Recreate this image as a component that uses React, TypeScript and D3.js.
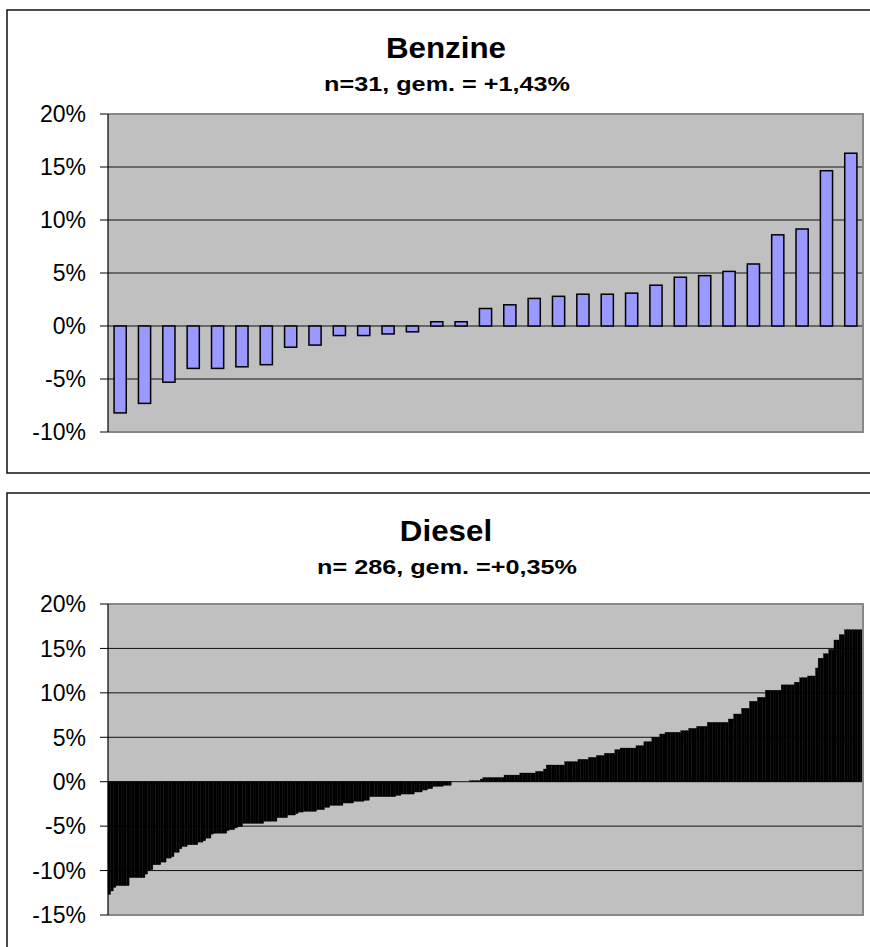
import React from "react";
import * as d3 from "d3";

// Benzine: 31 sorted price deviations (%)
const benzineValues: number[] = [
  -8.2, -7.3, -5.3, -4.0, -4.0, -3.85, -3.65, -2.0, -1.8, -0.9, -0.9, -0.75, -0.55,
  0.4, 0.4, 1.65, 2.0, 2.6, 2.8, 3.0, 3.0, 3.1, 3.85, 4.6, 4.75, 5.15, 5.85, 8.6, 9.15,
  14.65, 16.3,
];

// Diesel: 286 sorted price deviations (%)
const dieselValues: number[] = [
  -12.7, -12.3, -11.9, -11.7, -11.7, -11.7, -11.7, -11.7,
  -10.8, -10.8, -10.8, -10.8, -10.8, -10.8, -10.4, -10.0, -9.9,
  -9.35, -9.35, -9.35, -9.05, -9.05, -8.6, -8.6, -8.45, -7.95, -7.95, -7.55,
  -7.3, -7.3, -7.1, -7.1, -7.1, -7.1, -6.8, -6.8, -6.65, -6.35, -6.35, -5.9,
  -5.8, -5.8, -5.8, -5.8, -5.8, -5.5, -5.4, -5.4, -5.2, -5.05, -5.05,
  -4.7, -4.7, -4.7, -4.7, -4.7, -4.7, -4.7, -4.7,
  -4.45, -4.45, -4.45, -4.45, -4.45, -4.05, -4.05, -4.05, -4.05,
  -3.75, -3.75, -3.75, -3.6, -3.42, -3.42,
  -3.34, -3.34, -3.34, -3.34, -3.34, -3.15, -3.15, -3.15, -2.89, -2.89,
  -2.67, -2.67, -2.67, -2.67, -2.67, -2.4, -2.4, -2.4, -2.4,
  -2.21, -2.21, -2.21, -2.21, -2.1, -2.1,
  -1.69, -1.69, -1.69, -1.69, -1.69, -1.69, -1.69, -1.69, -1.69, -1.69,
  -1.54, -1.54, -1.39, -1.39, -1.39, -1.39, -1.39, -1.16, -1.16, -1.16,
  -0.94, -0.94, -0.79, -0.79, -0.53, -0.53, -0.53, -0.53, -0.41, -0.41, -0.41,
  0, 0, 0, 0, 0, 0, 0,
  0.12, 0.12, 0.12, 0.12, 0.3,
  0.47, 0.47, 0.47, 0.47, 0.47, 0.47, 0.47, 0.47,
  0.75, 0.75, 0.75, 0.75, 0.75, 0.75, 0.98, 0.98, 0.98, 0.98, 0.98, 0.98,
  1.16, 1.16, 1.16, 1.43,
  1.88, 1.88, 1.88, 1.88, 1.88, 1.88, 1.88, 2.25, 2.25, 2.25, 2.25, 2.25,
  2.52, 2.52, 2.52, 2.52, 2.74, 2.74, 2.74, 2.95, 2.95, 2.95, 3.2, 3.2, 3.2, 3.2,
  3.6, 3.6, 3.79, 3.79, 3.79, 3.79, 3.79, 3.79, 4.05, 4.05, 4.05,
  4.5, 4.5, 4.5, 5.0, 5.0, 5.0, 5.37, 5.37,
  5.56, 5.56, 5.56, 5.56, 5.56, 5.56, 5.74, 5.74, 5.74, 6.0, 6.0, 6.0,
  6.23, 6.23, 6.23, 6.23, 6.68, 6.68, 6.68, 6.68, 6.68, 6.68, 6.68, 6.68,
  7.06, 7.06, 7.62, 7.62, 7.62, 8.26, 8.26, 8.26, 9.05, 9.05, 9.05, 9.5, 9.5, 9.5,
  10.3, 10.3, 10.3, 10.3, 10.3, 10.3, 10.9, 10.9, 10.9, 10.9, 10.9, 11.2, 11.2,
  11.7, 11.7, 11.7, 11.9, 11.9, 11.9, 12.8, 13.9, 13.9, 14.4, 14.4, 14.9, 14.9,
  15.95, 15.95, 16.55, 16.55, 17.1, 17.1, 17.1, 17.1, 17.1, 17.1, 17.1,
];

const benzineTicks: number[] = [20, 15, 10, 5, 0, -5, -10];
const dieselTicks: number[] = [20, 15, 10, 5, 0, -5, -10, -15];

const FONT = "'Liberation Sans', Arial, sans-serif";

type PanelProps = {
  boxTop: number;
  boxHeight: number;
  plotTop: number;
  plotBottom: number;
  title: string;
  subtitle: string;
  values: number[];
  ticks: number[];
  padInner: number;
  padOuter: number;
  fill: string;
  stroke: string;
  strokeWidth: number;
};

function Panel(p: PanelProps) {
  const left = 108;
  const right = 863;
  const yMin = d3.min(p.ticks) as number;
  const yMax = d3.max(p.ticks) as number;
  const y = d3.scaleLinear().domain([yMin, yMax]).range([p.plotBottom, p.plotTop]);
  const x = d3
    .scaleBand<number>()
    .domain(d3.range(p.values.length))
    .range([left, right])
    .paddingInner(p.padInner)
    .paddingOuter(p.padOuter);
  const zero = y(0);
  const fmt = (t: number) => `${t}%`;

  return (
    <g>
      <rect x={7} y={p.boxTop} width={880} height={p.boxHeight} fill="#fff" stroke="#111" strokeWidth={1.5} />
      <text
        transform={`translate(446,${p.boxTop + 48}) scale(1.08,1)`}
        textAnchor="middle"
        fontFamily={FONT}
        fontWeight="bold"
        fontSize={29}
      >
        {p.title}
      </text>
      <text
        transform={`translate(447,${p.boxTop + 81}) scale(1.2,1)`}
        textAnchor="middle"
        fontFamily={FONT}
        fontWeight="bold"
        fontSize={21}
      >
        {p.subtitle}
      </text>
      <rect x={left} y={p.plotTop} width={right - left} height={p.plotBottom - p.plotTop} fill="#c0c0c0" />
      {p.ticks
        .filter((t) => t !== yMin && t !== yMax)
        .map((t) => (
          <line key={`g${t}`} x1={left} x2={right} y1={y(t)} y2={y(t)} stroke="#111" strokeWidth={1} />
        ))}
      {p.values.map((v, i) => {
        const y0 = Math.min(y(v), zero);
        const h = Math.abs(y(v) - zero);
        if (h === 0) return null;
        return (
          <rect
            key={i}
            x={x(i) as number}
            y={y0}
            width={x.bandwidth()}
            height={h}
            fill={p.fill}
            stroke={p.stroke}
            strokeWidth={p.strokeWidth}
          />
        );
      })}
      <path
        d={`M${left},${p.plotTop}H${right}V${p.plotBottom}H${left}`}
        fill="none"
        stroke="#888"
        strokeWidth={2}
      />
      <line x1={left} x2={left} y1={p.plotTop} y2={p.plotBottom} stroke="#000" strokeWidth={1.2} />
      {p.ticks.map((t) => (
        <g key={`t${t}`}>
          <line x1={100} x2={left} y1={y(t)} y2={y(t)} stroke="#000" strokeWidth={1} />
          <text
            x={86}
            y={y(t)}
            dy="0.36em"
            textAnchor="end"
            fontFamily={FONT}
            fontSize={23}
            fill="#000"
          >
            {fmt(t)}
          </text>
        </g>
      ))}
    </g>
  );
}

export default function App() {
  return (
    <svg
      width={870}
      height={947}
      style={{ position: "absolute", left: 0, top: 0, background: "#fff" }}
    >
      <Panel
        boxTop={10}
        boxHeight={463}
        plotTop={114}
        plotBottom={432}
        title="Benzine"
        subtitle="n=31, gem. = +1,43%"
        values={benzineValues}
        ticks={benzineTicks}
        padInner={0.5}
        padOuter={0.25}
        fill="#9999ff"
        stroke="#000"
        strokeWidth={1.5}
      />
      <Panel
        boxTop={493}
        boxHeight={480}
        plotTop={604}
        plotBottom={915}
        title="Diesel"
        subtitle="n= 286, gem. =+0,35%"
        values={dieselValues}
        ticks={dieselTicks}
        padInner={0}
        padOuter={0}
        fill="#000"
        stroke="#000"
        strokeWidth={0.3}
      />
    </svg>
  );
}
